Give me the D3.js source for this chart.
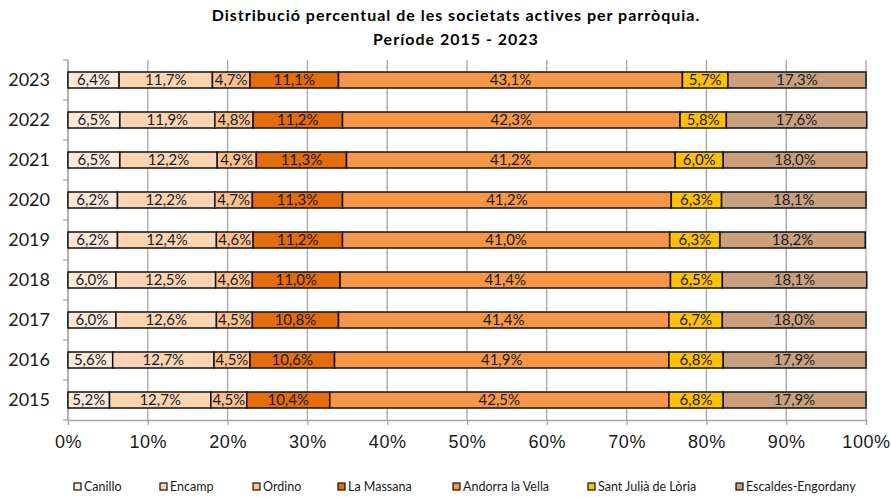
<!DOCTYPE html>
<html>
<head>
<meta charset="utf-8">
<script src="https://cdn.jsdelivr.net/npm/d3@7"></script>
<style>
  body { margin: 0; background: #fff; }
  svg { font-family: Lato, "Open Sans", sans-serif; }
</style>
</head>
<body>
<div id="chart"></div>
<script>
// parishes (stack order, left to right)
const parishes = ['Canillo', 'Encamp', 'Ordino', 'La Massana', 'Andorra la Vella', 'Sant Julià de Lòria', 'Escaldes-Engordany'];
const parishColors = ['#FDE9D9', '#FBD4B4', '#FAC090', '#E46C0A', '#F79646', '#FFC000', '#C9A07F'];

// years top to bottom
const years = ['2023', '2022', '2021', '2020', '2019', '2018', '2017', '2016', '2015'];

// share (%) per parish, same order as years
const canillo   = [6.4, 6.5, 6.5, 6.2, 6.2, 6.0, 6.0, 5.6, 5.2];
const encamp    = [11.7, 11.9, 12.2, 12.2, 12.4, 12.5, 12.6, 12.7, 12.7];
const ordino    = [4.7, 4.8, 4.9, 4.7, 4.6, 4.6, 4.5, 4.5, 4.5];
const laMassana = [11.1, 11.2, 11.3, 11.3, 11.2, 11.0, 10.8, 10.6, 10.4];
const andorra   = [43.1, 42.3, 41.2, 41.2, 41.0, 41.4, 41.4, 41.9, 42.5];
const santJulia = [5.7, 5.8, 6.0, 6.3, 6.3, 6.5, 6.7, 6.8, 6.8];
const escaldes  = [17.3, 17.6, 18.0, 18.1, 18.2, 18.1, 18.0, 17.9, 17.9];

const xTicks = [0, 10, 20, 30, 40, 50, 60, 70, 80, 90, 100];

const series = [canillo, encamp, ordino, laMassana, andorra, santJulia, escaldes];

// build table for the stack
const table = years.map((y, i) => {
    const row = { year: y };
    parishes.forEach((p, j) => { row[p] = series[j][i]; });
    return row;
});

const W = 891, H = 497;
const margin = { top: 60, right: 25, bottom: 77, left: 68 };
const width = W - margin.left - margin.right;
const height = H - margin.top - margin.bottom;

const svg = d3.select('#chart').append('svg')
    .attr('width', W)
    .attr('height', H);

// title
svg.append('text')
    .attr('x', 456).attr('y', 21)
    .attr('text-anchor', 'middle')
    .attr('font-size', 16).attr('font-weight', 'bold')
    .attr('letter-spacing', 1.0)
    .text('Distribució  percentual de les societats actives per parròquia.');
svg.append('text')
    .attr('x', 456).attr('y', 45)
    .attr('text-anchor', 'middle')
    .attr('font-size', 16).attr('font-weight', 'bold')
    .attr('letter-spacing', 1.0)
    .text('Període 2015 - 2023');

const g = svg.append('g').attr('transform', `translate(${margin.left},${margin.top})`);

const x = d3.scaleLinear().domain([0, 100]).range([0, width]);
const y = d3.scaleBand().domain(years).range([0, height]).paddingInner(0.6).paddingOuter(0.3);
const yOuter = d3.scaleBand().domain(years).range([0, height]);

// gridlines
g.append('g')
    .selectAll('line')
    .data(xTicks)
    .enter().append('line')
    .attr('x1', d => x(d)).attr('x2', d => x(d))
    .attr('y1', 0).attr('y2', height)
    .attr('stroke', '#a6a6a6')
    .attr('stroke-width', 1.3);

// y axis (ticks between categories)
g.append('line')
    .attr('x1', 0).attr('x2', 0).attr('y1', 0).attr('y2', height)
    .attr('stroke', '#a6a6a6').attr('stroke-width', 1.3);
g.append('g')
    .selectAll('line')
    .data(years.concat(['end']))
    .enter().append('line')
    .attr('x1', -5).attr('x2', 0)
    .attr('y1', (d, i) => i * yOuter.step())
    .attr('y2', (d, i) => i * yOuter.step())
    .attr('stroke', '#a6a6a6').attr('stroke-width', 1.3);

g.append('g')
    .selectAll('text')
    .data(years)
    .enter().append('text')
    .attr('x', -18)
    .attr('y', d => yOuter(d) + yOuter.bandwidth() / 2)
    .attr('dy', '0.35em')
    .attr('text-anchor', 'end')
    .attr('font-size', 18)
    .attr('fill', '#1a1a1a')
    .text(d => d);

// x axis
const xAxis = g.append('g')
    .attr('transform', `translate(0,${height})`)
    .call(d3.axisBottom(x).tickValues(xTicks).tickSize(5).tickPadding(10).tickFormat(d => d + '%'));
xAxis.select('.domain').attr('stroke', '#a6a6a6').attr('stroke-width', 1.3);
xAxis.selectAll('.tick line').attr('stroke', '#a6a6a6').attr('stroke-width', 1.3);
xAxis.selectAll('.tick text')
    .attr('font-size', 18)
    .attr('letter-spacing', 0.6)
    .attr('font-family', 'inherit')
    .attr('fill', '#1a1a1a');

// stacked bars
const stack = d3.stack().keys(parishes);
const stacked = stack(table);

const layers = g.append('g')
    .selectAll('g')
    .data(stacked)
    .enter().append('g')
    .attr('fill', (d, i) => parishColors[i]);

layers.selectAll('rect')
    .data(d => d)
    .enter().append('rect')
    .attr('x', d => x(d[0]))
    .attr('y', d => y(d.data.year))
    .attr('width', d => x(d[1]) - x(d[0]))
    .attr('height', y.bandwidth())
    .attr('stroke', '#111')
    .attr('stroke-width', 1.5);

layers.selectAll('text')
    .data(d => d)
    .enter().append('text')
    .attr('x', d => (x(d[0]) + x(d[1])) / 2)
    .attr('y', d => y(d.data.year) + y.bandwidth() / 2)
    .attr('dy', '0.36em')
    .attr('text-anchor', 'middle')
    .attr('font-size', 15)
    .attr('fill', '#1a1a1a')
    .text(d => (d[1] - d[0]).toFixed(1).replace('.', ',') + '%');

// legend
const legendX = [74, 160, 253, 338, 453, 588, 736];
const legend = svg.append('g')
    .selectAll('g')
    .data(parishes)
    .enter().append('g')
    .attr('transform', (d, i) => `translate(${legendX[i]},483)`);
legend.append('rect')
    .attr('width', 7).attr('height', 7)
    .attr('fill', (d, i) => parishColors[i])
    .attr('stroke', '#111').attr('stroke-width', 1.2);
legend.append('text')
    .attr('x', 10).attr('y', 4)
    .attr('dy', '0.35em')
    .attr('font-size', 12.5)
    .attr('fill', '#1a1a1a')
    .text(d => d);
</script>
</body>
</html>
